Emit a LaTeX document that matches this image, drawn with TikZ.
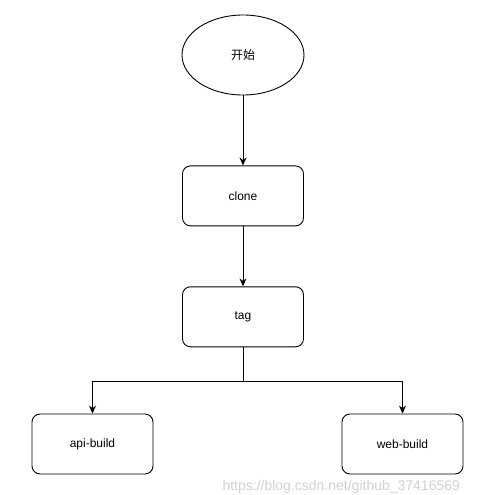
\documentclass[tikz,border=0pt]{standalone}
\usepackage{fontspec}
\setmainfont{Liberation Sans}
\newfontfamily\cjkfont{Noto Sans CJK SC}
\usetikzlibrary{
    arrows.meta,
    positioning,
    shapes.geometric
}

\begin{document}
\begin{tikzpicture}[
    x=1pt, y=1pt,
    font=\fontsize{12}{14}\selectfont,
    node distance=60pt,
    startnode/.style={
        ellipse,
        draw=black,
        line width=0.9pt,
        minimum width=122pt,
        minimum height=80pt,
        inner sep=0pt
    },
    box/.style={
        rectangle,
        rounded corners=8pt,
        draw=black,
        line width=0.9pt,
        align=center,
        minimum height=60pt,
        minimum width=121pt
    },
    arrow/.style={-{Stealth[length=8pt,width=7pt]}, line width=0.9pt, black},
    watermark/.style={
        font=\fontsize{14}{16}\selectfont,
        text=black!18
    }
]
\useasboundingbox (0,0) rectangle (498,-495);

% ===== main flow =====
\node[startnode] (start) at (243,-55) {\cjkfont 开始};
\node[box, below=70pt of start] (clone) {clone};
\node[box, below=of clone] (tag) {tag};

% ===== build jobs =====
\node[box] (api) at (92.5,-444) {api-build};
\node[box] (web) at (402.5,-444) {web-build};

\coordinate (split) at ([yshift=-34pt]tag.south);

\draw[arrow] (start) -- (clone);
\draw[arrow] (clone) -- (tag);
\draw[line width=0.9pt] (tag) -- (split);
\draw[arrow] (split) -| (api);
\draw[arrow] (split) -| (web);

% watermark
\node[watermark, anchor=base west] (wm) at (219,-490) {https://blog.csdn.net/github\_37416569};

\end{tikzpicture}
\end{document}
